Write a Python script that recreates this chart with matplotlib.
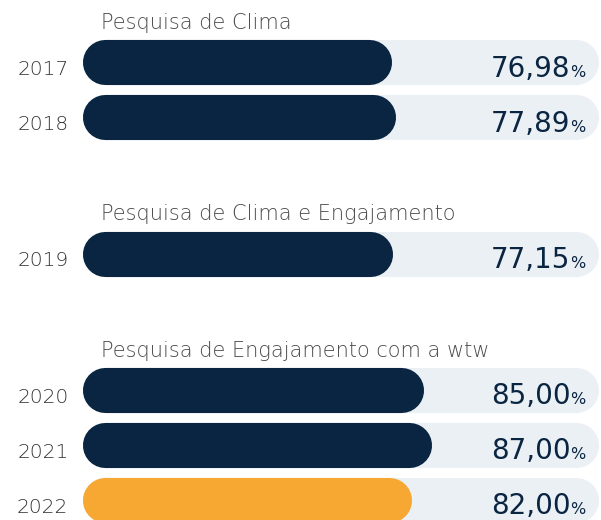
import matplotlib.pyplot as plt

# data
groups = ["Pesquisa de Clima", "Pesquisa de Clima e Engajamento",
          "Pesquisa de Engajamento com a wtw"]
years = [["2017", "2018"], ["2019"], ["2020", "2021", "2022"]]
values = [[76.98, 77.89], [77.15], [85.00, 87.00, 82.00]]
value_labels = [["76,98", "77,89"], ["77,15"], ["85,00", "87,00", "82,00"]]
highlight = "2022"

# style
NAVY = "#0a2541"
ORANGE = "#f6a833"
TRACK = "#ebf0f5"
GRAY = "#4a4a4a"

W, H, DPI = 6.01, 5.20, 100
XMIN, XMAX = -20.4, 129.1
YTOP, YBOT = -1.136, 8.318
TRACK_END = 128.4
BAR_H = 0.82
GROUP_GAP = 2.48

plt.rcParams['font.family'] = ['DejaVu Sans']

fig = plt.figure(figsize=(W, H), dpi=DPI)
ax = fig.add_axes([0, 0, 1, 1])
ax.set_xlim(XMIN, XMAX)
ax.set_ylim(YBOT, YTOP)
ax.axis('off')

# bars are thick lines with round caps; convert bar height to points
px_x = (XMAX - XMIN) / (W * DPI)
px_y = (YBOT - YTOP) / (H * DPI)
bar_px = BAR_H / px_y
lw = bar_px * 72 / DPI
r = bar_px / 2 * px_x  # cap radius in x units


def capsule(x1, y, color, z):
    ax.plot([r, x1 - r], [y, y], color=color, lw=lw,
            solid_capstyle='round', zorder=z)


y = 0.0
for title, ys, vs, labels in zip(groups, years, values, value_labels):
    ax.text(4.6, y - 0.61, title, fontsize=15, color=GRAY,
            fontweight='light', ha='left', va='baseline')
    for yr, v, lab in zip(ys, vs, labels):
        capsule(TRACK_END, y, TRACK, 1)
        capsule(v, y, ORANGE if yr == highlight else NAVY, 2)
        ax.text(-3.4, y + 0.227, yr, fontsize=14.5, color="#333333",
                fontweight='light', ha='right', va='baseline')
        pct = ax.text(125.3, y + 0.255, "%", fontsize=11.5, color=NAVY,
                      ha='right', va='baseline', zorder=3)
        ax.annotate(lab, xy=(0, y + 0.255), xycoords=(pct, 'data'),
                    fontsize=20, color=NAVY, ha='right', va='baseline',
                    zorder=3)
        y += 1
    y += GROUP_GAP - 1

fig.savefig("out.png", dpi=DPI)
